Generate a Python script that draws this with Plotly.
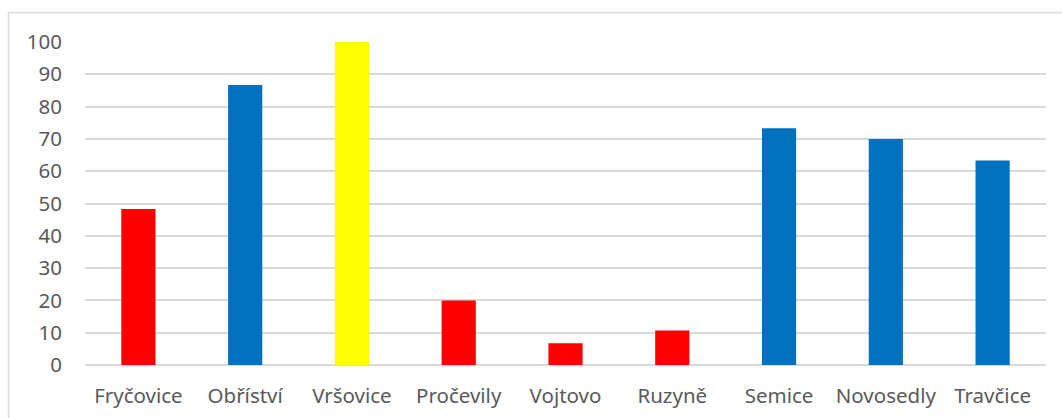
import plotly.graph_objects as go

# Villages and their scores
villages = ["Fryčovice", "Obříství", "Vršovice", "Pročevily", "Vojtovo",
            "Ruzyně", "Semice", "Novosedly", "Travčice"]
scores = [48.3, 86.7, 100, 20, 6.7, 10.7, 73.3, 70, 63.3]
bar_colors = ["#FF0000", "#0070C0", "#FFFF00", "#FF0000", "#FF0000",
              "#FF0000", "#0070C0", "#0070C0", "#0070C0"]
y_ticks = list(range(0, 101, 10))

W, H = 1062, 418
L, R, T, B = 85, 16, 42, 53
plot_w = W - L - R
plot_h = H - T - B


def px_to_paper_x(px):
    return (px - L) / plot_w


def px_to_paper_y(py):
    return (H - B - py) / plot_h


fig = go.Figure(
    go.Bar(
        x=villages,
        y=scores,
        marker=dict(color=bar_colors, line=dict(width=0)),
        hoverinfo="x+y",
    )
)

text_font = dict(family="Noto Sans, Open Sans, sans-serif", size=20.5, color="#595959")

fig.update_layout(
    width=W,
    height=H,
    margin=dict(l=L, r=R, t=T, b=B),
    paper_bgcolor="white",
    plot_bgcolor="white",
    bargap=0.68,
    showlegend=False,
    font=text_font,
    xaxis=dict(
        showgrid=False,
        showline=False,
        ticks="",
        ticklabelstandoff=16,
        tickfont=text_font,
        automargin=False,
        fixedrange=True,
    ),
    yaxis=dict(
        range=[0, 100],
        tickvals=y_ticks,
        ticktext=[str(v) for v in y_ticks],
        showgrid=True,
        gridcolor="#d9d9d9",
        gridwidth=1.5,
        zeroline=True,
        zerolinecolor="#d9d9d9",
        zerolinewidth=1.5,
        showline=False,
        ticks="",
        ticklabelstandoff=22,
        tickfont=text_font,
        automargin=False,
        fixedrange=True,
    ),
    shapes=[
        # chart frame: top and left edges
        dict(type="line", xref="paper", yref="paper",
             x0=px_to_paper_x(8), x1=px_to_paper_x(W + 2),
             y0=px_to_paper_y(12.5), y1=px_to_paper_y(12.5),
             line=dict(color="#d9d9d9", width=1.5)),
        dict(type="line", xref="paper", yref="paper",
             x0=px_to_paper_x(8.5), x1=px_to_paper_x(8.5),
             y0=px_to_paper_y(12), y1=px_to_paper_y(H + 2),
             line=dict(color="#d9d9d9", width=1.5)),
    ],
)

fig.write_html("out.html")
